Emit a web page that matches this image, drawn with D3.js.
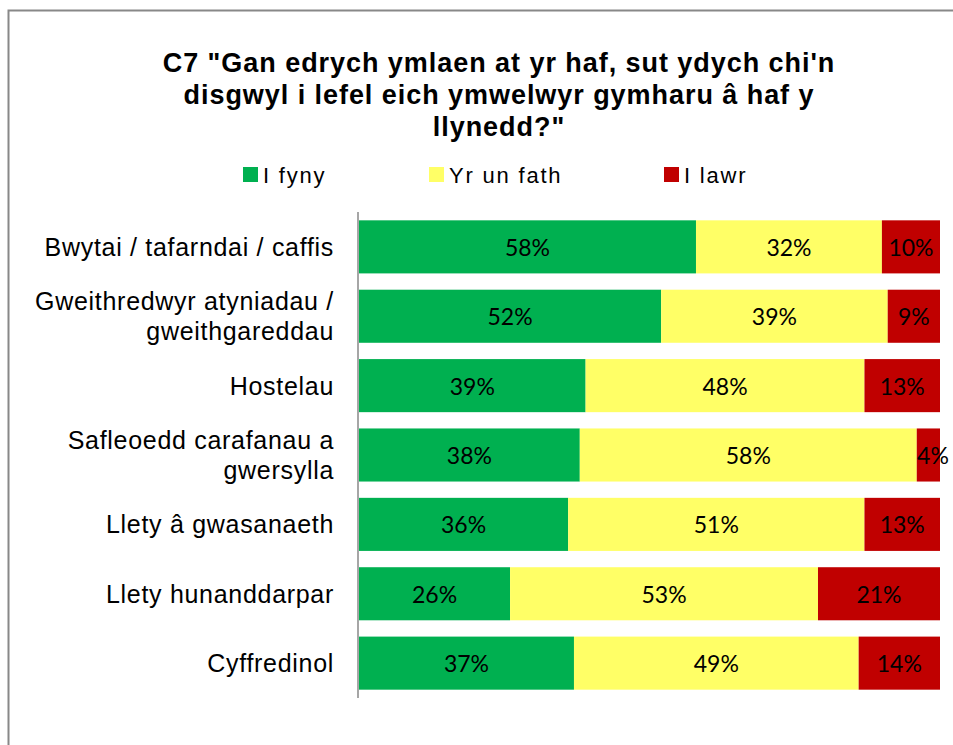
<!DOCTYPE html>
<html><head><meta charset="utf-8">
<script src="https://cdn.jsdelivr.net/npm/d3@7"></script>
<style>body{margin:0;background:#fff}svg{display:block}</style>
</head><body>
<script>
const categories = [
  ["Bwytai / tafarndai / caffis"],
  ["Gweithredwyr atyniadau /", "gweithgareddau"],
  ["Hostelau"],
  ["Safleoedd carafanau a", "gwersylla"],
  ["Llety â gwasanaeth"],
  ["Llety hunanddarpar"],
  ["Cyffredinol"]
];
const seriesNames = ["I fyny", "Yr un fath", "I lawr"];
const seriesColors = ["#00b050", "#ffff66", "#c00000"];
const up   = [58, 52, 39, 38, 36, 26, 37];
const same = [32, 39, 48, 58, 51, 53, 49];
const down = [10, 9, 13, 4, 13, 21, 14];
const titleLines = ["C7 \"Gan edrych ymlaen at yr haf, sut ydych chi'n", "disgwyl i lefel eich ymwelwyr gymharu â haf y", "llynedd?\""];

const W = 953, H = 745;
const svg = d3.select("body").append("svg").attr("width", W).attr("height", H);

svg.append("rect").attr("x", 8.5).attr("y", 10.5).attr("width", 960).attr("height", 760)
  .attr("fill", "#fff").attr("stroke", "#888").attr("stroke-width", 2);

svg.append("g").selectAll("text").data(titleLines).join("text")
  .attr("x", 499).attr("y", (d, i) => 72 + i * 32)
  .attr("text-anchor", "middle").attr("font-family", "Liberation Sans, Arial, sans-serif")
  .attr("font-weight", "bold").attr("font-size", 27).attr("letter-spacing", 0.95).attr("fill", "#000").text(d => d);

const legendX = [243, 429, 664];
const lg = svg.append("g").selectAll("g").data(seriesNames).join("g")
  .attr("transform", (d, i) => `translate(${legendX[i]},167)`);
lg.append("rect").attr("width", 15).attr("height", 15).attr("fill", (d, i) => seriesColors[i]);
lg.append("text").attr("x", 20).attr("y", 16).attr("font-family", "Liberation Sans, Arial, sans-serif")
  .attr("font-size", 22).attr("letter-spacing", 1.8).attr("fill", "#000").text(d => d);

const x = d3.scaleLinear().domain([0, 100]).range([359, 940]);
const y = d3.scaleBand().domain(d3.range(categories.length)).range([212, 698]).paddingInner(0.235).paddingOuter(0.12);

const rows = categories.map((c, i) => ({i, vals: [up[i], same[i], down[i]]}));
const segs = [];
rows.forEach(r => { let acc = 0; r.vals.forEach((v, k) => { segs.push({i: r.i, k, x0: acc, x1: acc + v, v}); acc += v; }); });

svg.append("g").selectAll("rect").data(segs).join("rect")
  .attr("x", d => x(d.x0)).attr("width", d => x(d.x1) - x(d.x0))
  .attr("y", d => y(d.i)).attr("height", y.bandwidth())
  .attr("fill", d => seriesColors[d.k]);

svg.append("g").selectAll("text").data(segs).join("text")
  .attr("x", d => d.v < 6 ? x(d.x1) - 7 : (x(d.x0) + x(d.x1)) / 2)
  .attr("y", d => y(d.i) + y.bandwidth() / 2 + 9)
  .attr("text-anchor", "middle").attr("font-family", "Lato, Open Sans, sans-serif")
  .attr("font-size", 23).attr("fill", "#000").text(d => d.v + "%");

svg.append("line").attr("x1", 358).attr("x2", 358).attr("y1", 212).attr("y2", 698)
  .attr("stroke", "#888").attr("stroke-width", 1.5);

const cl = svg.append("g").selectAll("text").data(categories).join("text")
  .attr("text-anchor", "end").attr("font-family", "Liberation Sans, Arial, sans-serif")
  .attr("font-size", 25).attr("letter-spacing", 0.7).attr("fill", "#000");
cl.each(function(d, i) {
  const cy = y(i) + y.bandwidth() / 2;
  const n = d.length;
  d3.select(this).selectAll("tspan").data(d).join("tspan")
    .attr("x", 334).attr("y", (t, j) => cy + 9 + (j - (n - 1) / 2) * 30).text(t => t);
});
</script>
</body></html>
